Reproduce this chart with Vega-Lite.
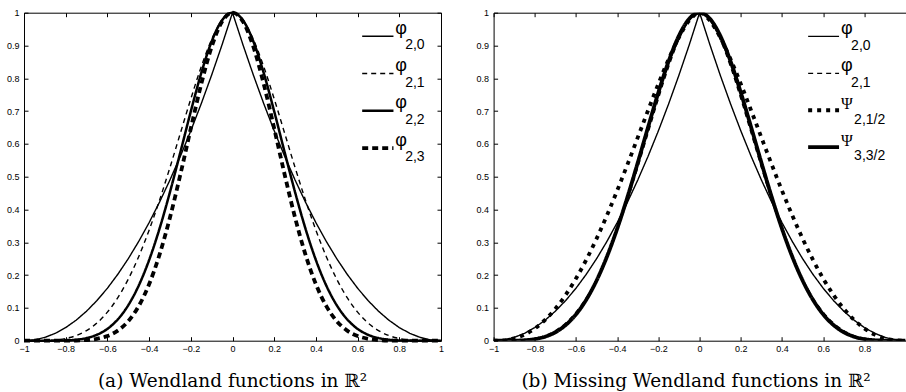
{
  "$schema": "https://vega.github.io/schema/vega-lite/v6.json",
  "background": "white",
  "padding": {"left": 6, "top": 4.7, "right": 0, "bottom": 1},
  "config": {
    "view": {"stroke": null},
    "axis": {"labelFont": "Liberation Sans", "labelFontSize": 9, "labelColor": "black", "domainColor": "black", "domainWidth": 1, "tickColor": "black", "tickWidth": 1, "tickSize": -4, "grid": false, "labelFlush": false, "labelOverlap": false, "labelBound": false},
    "axisX": {"labelPadding": 7.5},
    "axisY": {"labelPadding": 9},
    "title": {"font": "DejaVu Serif", "fontSize": 18.5, "fontWeight": "normal", "color": "black"}
  },
  "datasets": {
    "curves": [
      {"f":"p20","x":-1,"y":0},{"f":"p20","x":-0.95,"y":0.0025},{"f":"p20","x":-0.9,"y":0.01},{"f":"p20","x":-0.85,"y":0.0225},{"f":"p20","x":-0.8,"y":0.04},{"f":"p20","x":-0.75,"y":0.0625},{"f":"p20","x":-0.7,"y":0.09},{"f":"p20","x":-0.65,"y":0.1225},{"f":"p20","x":-0.6,"y":0.16},{"f":"p20","x":-0.55,"y":0.2025},{"f":"p20","x":-0.5,"y":0.25},{"f":"p20","x":-0.45,"y":0.3025},{"f":"p20","x":-0.4,"y":0.36},{"f":"p20","x":-0.35,"y":0.4225},{"f":"p20","x":-0.3,"y":0.49},{"f":"p20","x":-0.25,"y":0.5625},{"f":"p20","x":-0.2,"y":0.64},{"f":"p20","x":-0.15,"y":0.7225},{"f":"p20","x":-0.1,"y":0.81},{"f":"p20","x":-0.05,"y":0.9025},{"f":"p20","x":0,"y":1},{"f":"p20","x":0.05,"y":0.9025},{"f":"p20","x":0.1,"y":0.81},{"f":"p20","x":0.15,"y":0.7225},{"f":"p20","x":0.2,"y":0.64},{"f":"p20","x":0.25,"y":0.5625},{"f":"p20","x":0.3,"y":0.49},{"f":"p20","x":0.35,"y":0.4225},{"f":"p20","x":0.4,"y":0.36},{"f":"p20","x":0.45,"y":0.3025},{"f":"p20","x":0.5,"y":0.25},{"f":"p20","x":0.55,"y":0.2025},{"f":"p20","x":0.6,"y":0.16},{"f":"p20","x":0.65,"y":0.1225},{"f":"p20","x":0.7,"y":0.09},{"f":"p20","x":0.75,"y":0.0625},{"f":"p20","x":0.8,"y":0.04},{"f":"p20","x":0.85,"y":0.0225},{"f":"p20","x":0.9,"y":0.01},{"f":"p20","x":0.95,"y":0.0025},{"f":"p20","x":1,"y":0},
      {"f":"p21","x":-1,"y":0},{"f":"p21","x":-0.95,"y":0},{"f":"p21","x":-0.9,"y":0.0005},{"f":"p21","x":-0.85,"y":0.0022},{"f":"p21","x":-0.8,"y":0.0067},{"f":"p21","x":-0.75,"y":0.0156},{"f":"p21","x":-0.7,"y":0.0308},{"f":"p21","x":-0.65,"y":0.054},{"f":"p21","x":-0.6,"y":0.087},{"f":"p21","x":-0.55,"y":0.1312},{"f":"p21","x":-0.5,"y":0.1875},{"f":"p21","x":-0.45,"y":0.2562},{"f":"p21","x":-0.4,"y":0.337},{"f":"p21","x":-0.35,"y":0.4284},{"f":"p21","x":-0.3,"y":0.5282},{"f":"p21","x":-0.25,"y":0.6328},{"f":"p21","x":-0.2,"y":0.7373},{"f":"p21","x":-0.15,"y":0.8352},{"f":"p21","x":-0.1,"y":0.9185},{"f":"p21","x":-0.05,"y":0.9774},{"f":"p21","x":0,"y":1},{"f":"p21","x":0.05,"y":0.9774},{"f":"p21","x":0.1,"y":0.9185},{"f":"p21","x":0.15,"y":0.8352},{"f":"p21","x":0.2,"y":0.7373},{"f":"p21","x":0.25,"y":0.6328},{"f":"p21","x":0.3,"y":0.5282},{"f":"p21","x":0.35,"y":0.4284},{"f":"p21","x":0.4,"y":0.337},{"f":"p21","x":0.45,"y":0.2562},{"f":"p21","x":0.5,"y":0.1875},{"f":"p21","x":0.55,"y":0.1312},{"f":"p21","x":0.6,"y":0.087},{"f":"p21","x":0.65,"y":0.054},{"f":"p21","x":0.7,"y":0.0308},{"f":"p21","x":0.75,"y":0.0156},{"f":"p21","x":0.8,"y":0.0067},{"f":"p21","x":0.85,"y":0.0022},{"f":"p21","x":0.9,"y":0.0005},{"f":"p21","x":0.95,"y":0},{"f":"p21","x":1,"y":0},
      {"f":"p22","x":-1,"y":0},{"f":"p22","x":-0.95,"y":0},{"f":"p22","x":-0.9,"y":0},{"f":"p22","x":-0.85,"y":0.0002},{"f":"p22","x":-0.8,"y":0.0008},{"f":"p22","x":-0.75,"y":0.0029},{"f":"p22","x":-0.7,"y":0.008},{"f":"p22","x":-0.65,"y":0.0181},{"f":"p22","x":-0.6,"y":0.036},{"f":"p22","x":-0.55,"y":0.065},{"f":"p22","x":-0.5,"y":0.1081},{"f":"p22","x":-0.45,"y":0.1678},{"f":"p22","x":-0.4,"y":0.2457},{"f":"p22","x":-0.35,"y":0.3416},{"f":"p22","x":-0.3,"y":0.453},{"f":"p22","x":-0.25,"y":0.5747},{"f":"p22","x":-0.2,"y":0.6991},{"f":"p22","x":-0.15,"y":0.8156},{"f":"p22","x":-0.1,"y":0.9123},{"f":"p22","x":-0.05,"y":0.9771},{"f":"p22","x":0,"y":1},{"f":"p22","x":0.05,"y":0.9771},{"f":"p22","x":0.1,"y":0.9123},{"f":"p22","x":0.15,"y":0.8156},{"f":"p22","x":0.2,"y":0.6991},{"f":"p22","x":0.25,"y":0.5747},{"f":"p22","x":0.3,"y":0.453},{"f":"p22","x":0.35,"y":0.3416},{"f":"p22","x":0.4,"y":0.2457},{"f":"p22","x":0.45,"y":0.1678},{"f":"p22","x":0.5,"y":0.1081},{"f":"p22","x":0.55,"y":0.065},{"f":"p22","x":0.6,"y":0.036},{"f":"p22","x":0.65,"y":0.0181},{"f":"p22","x":0.7,"y":0.008},{"f":"p22","x":0.75,"y":0.0029},{"f":"p22","x":0.8,"y":0.0008},{"f":"p22","x":0.85,"y":0.0002},{"f":"p22","x":0.9,"y":0},{"f":"p22","x":0.95,"y":0},{"f":"p22","x":1,"y":0},
      {"f":"p23","x":-1,"y":0},{"f":"p23","x":-0.95,"y":0},{"f":"p23","x":-0.9,"y":0},{"f":"p23","x":-0.85,"y":0},{"f":"p23","x":-0.8,"y":0.0001},{"f":"p23","x":-0.75,"y":0.0005},{"f":"p23","x":-0.7,"y":0.002},{"f":"p23","x":-0.65,"y":0.0058},{"f":"p23","x":-0.6,"y":0.0142},{"f":"p23","x":-0.55,"y":0.0308},{"f":"p23","x":-0.5,"y":0.0596},{"f":"p23","x":-0.45,"y":0.1053},{"f":"p23","x":-0.4,"y":0.1721},{"f":"p23","x":-0.35,"y":0.2624},{"f":"p23","x":-0.3,"y":0.3755},{"f":"p23","x":-0.25,"y":0.5068},{"f":"p23","x":-0.2,"y":0.6469},{"f":"p23","x":-0.15,"y":0.7822},{"f":"p23","x":-0.1,"y":0.8962},{"f":"p23","x":-0.05,"y":0.9729},{"f":"p23","x":0,"y":1},{"f":"p23","x":0.05,"y":0.9729},{"f":"p23","x":0.1,"y":0.8962},{"f":"p23","x":0.15,"y":0.7822},{"f":"p23","x":0.2,"y":0.6469},{"f":"p23","x":0.25,"y":0.5068},{"f":"p23","x":0.3,"y":0.3755},{"f":"p23","x":0.35,"y":0.2624},{"f":"p23","x":0.4,"y":0.1721},{"f":"p23","x":0.45,"y":0.1053},{"f":"p23","x":0.5,"y":0.0596},{"f":"p23","x":0.55,"y":0.0308},{"f":"p23","x":0.6,"y":0.0142},{"f":"p23","x":0.65,"y":0.0058},{"f":"p23","x":0.7,"y":0.002},{"f":"p23","x":0.75,"y":0.0005},{"f":"p23","x":0.8,"y":0.0001},{"f":"p23","x":0.85,"y":0},{"f":"p23","x":0.9,"y":0},{"f":"p23","x":0.95,"y":0},{"f":"p23","x":1,"y":0},
      {"f":"s21","x":-1,"y":0},{"f":"s21","x":-0.95,"y":0.0012},{"f":"s21","x":-0.9,"y":0.0069},{"f":"s21","x":-0.85,"y":0.0185},{"f":"s21","x":-0.8,"y":0.0372},{"f":"s21","x":-0.75,"y":0.0634},{"f":"s21","x":-0.7,"y":0.0975},{"f":"s21","x":-0.65,"y":0.1396},{"f":"s21","x":-0.6,"y":0.1895},{"f":"s21","x":-0.55,"y":0.2469},{"f":"s21","x":-0.5,"y":0.3113},{"f":"s21","x":-0.45,"y":0.3819},{"f":"s21","x":-0.4,"y":0.4577},{"f":"s21","x":-0.35,"y":0.5375},{"f":"s21","x":-0.3,"y":0.6197},{"f":"s21","x":-0.25,"y":0.7024},{"f":"s21","x":-0.2,"y":0.7831},{"f":"s21","x":-0.15,"y":0.8587},{"f":"s21","x":-0.1,"y":0.9251},{"f":"s21","x":-0.05,"y":0.9761},{"f":"s21","x":0,"y":1},{"f":"s21","x":0.05,"y":0.9761},{"f":"s21","x":0.1,"y":0.9251},{"f":"s21","x":0.15,"y":0.8587},{"f":"s21","x":0.2,"y":0.7831},{"f":"s21","x":0.25,"y":0.7024},{"f":"s21","x":0.3,"y":0.6197},{"f":"s21","x":0.35,"y":0.5375},{"f":"s21","x":0.4,"y":0.4577},{"f":"s21","x":0.45,"y":0.3819},{"f":"s21","x":0.5,"y":0.3113},{"f":"s21","x":0.55,"y":0.2469},{"f":"s21","x":0.6,"y":0.1895},{"f":"s21","x":0.65,"y":0.1396},{"f":"s21","x":0.7,"y":0.0975},{"f":"s21","x":0.75,"y":0.0634},{"f":"s21","x":0.8,"y":0.0372},{"f":"s21","x":0.85,"y":0.0185},{"f":"s21","x":0.9,"y":0.0069},{"f":"s21","x":0.95,"y":0.0012},{"f":"s21","x":1,"y":0},
      {"f":"s33","x":-1,"y":0},{"f":"s33","x":-0.95,"y":0},{"f":"s33","x":-0.9,"y":0.0002},{"f":"s33","x":-0.85,"y":0.0014},{"f":"s33","x":-0.8,"y":0.0048},{"f":"s33","x":-0.75,"y":0.0122},{"f":"s33","x":-0.7,"y":0.0258},{"f":"s33","x":-0.65,"y":0.0477},{"f":"s33","x":-0.6,"y":0.0802},{"f":"s33","x":-0.55,"y":0.1251},{"f":"s33","x":-0.5,"y":0.1836},{"f":"s33","x":-0.45,"y":0.2559},{"f":"s33","x":-0.4,"y":0.3414},{"f":"s33","x":-0.35,"y":0.4383},{"f":"s33","x":-0.3,"y":0.5431},{"f":"s33","x":-0.25,"y":0.6513},{"f":"s33","x":-0.2,"y":0.7568},{"f":"s33","x":-0.15,"y":0.8524},{"f":"s33","x":-0.1,"y":0.9301},{"f":"s33","x":-0.05,"y":0.9817},{"f":"s33","x":0,"y":1},{"f":"s33","x":0.05,"y":0.9817},{"f":"s33","x":0.1,"y":0.9301},{"f":"s33","x":0.15,"y":0.8524},{"f":"s33","x":0.2,"y":0.7568},{"f":"s33","x":0.25,"y":0.6513},{"f":"s33","x":0.3,"y":0.5431},{"f":"s33","x":0.35,"y":0.4383},{"f":"s33","x":0.4,"y":0.3414},{"f":"s33","x":0.45,"y":0.2559},{"f":"s33","x":0.5,"y":0.1836},{"f":"s33","x":0.55,"y":0.1251},{"f":"s33","x":0.6,"y":0.0802},{"f":"s33","x":0.65,"y":0.0477},{"f":"s33","x":0.7,"y":0.0258},{"f":"s33","x":0.75,"y":0.0122},{"f":"s33","x":0.8,"y":0.0048},{"f":"s33","x":0.85,"y":0.0014},{"f":"s33","x":0.9,"y":0.0002},{"f":"s33","x":0.95,"y":0},{"f":"s33","x":1,"y":0}
    ],
    "leg": [
      {"p":"a","f":"p20","s":"φ","t":"2,0"},{"p":"a","f":"p21","s":"φ","t":"2,1"},{"p":"a","f":"p22","s":"φ","t":"2,2"},{"p":"a","f":"p23","s":"φ","t":"2,3"},
      {"p":"b","f":"p20","s":"φ","t":"2,0"},{"p":"b","f":"p21","s":"φ","t":"2,1"},{"p":"b","f":"s21","s":"Ψ","t":"2,1/2"},{"p":"b","f":"s33","s":"Ψ","t":"3,3/2"}
    ]
  },
  "bounds": "flush",
  "spacing": 52.6,
  "resolve": {"scale": {"strokeDash": "independent", "strokeWidth": "independent"}},
  "hconcat": [
    {
      "width": 417, "height": 328,
      "title": {"text": "(a) Wendland functions in ℝ²", "orient": "bottom", "anchor": "middle", "baseline": "alphabetic", "offset": 33.8},
      "resolve": {"scale": {"y": "independent"}, "axis": {"x": "independent"}},
      "layer": [
        {
          "data": {"name": "curves"},
          "transform": [{"filter": "datum.f === 'p20'"}],
          "mark": {"type": "line", "interpolate": "linear", "color": "black"},
          "encoding": {
            "x": {"field": "x", "type": "quantitative", "scale": {"domain": [-1, 1]}, "axis": {"orient": "bottom", "title": null, "values": [-1, -0.8, -0.6, -0.4, -0.2, 0, 0.2, 0.4, 0.6, 0.8, 1], "format": "~g"}},
            "y": {"field": "y", "type": "quantitative", "scale": {"domain": [0, 1]}, "axis": {"orient": "left", "title": null, "values": [0, 0.1, 0.2, 0.3, 0.4, 0.5, 0.6, 0.7, 0.8, 0.9, 1], "format": "~g"}},
            "strokeDash": {"field": "f", "type": "nominal", "legend": null, "scale": {"domain": ["p20", "p21", "p22", "p23"], "range": [[1, 0], [5, 4], [1, 0], [6, 4]]}},
            "strokeWidth": {"field": "f", "type": "nominal", "legend": null, "scale": {"type": "ordinal", "domain": ["p20", "p21", "p22", "p23"], "range": [1.4, 1.4, 2.5, 3.8]}}
          }
        },
        {
          "data": {"name": "curves"},
          "transform": [{"filter": "indexof(['p21','p22','p23'], datum.f) >= 0"}],
          "mark": {"type": "line", "interpolate": "monotone", "color": "black"},
          "encoding": {
            "x": {"field": "x", "type": "quantitative", "scale": {"domain": [-1, 1]}, "axis": {"orient": "top", "title": null, "labels": false, "values": [-1, -0.8, -0.6, -0.4, -0.2, 0, 0.2, 0.4, 0.6, 0.8, 1]}},
            "y": {"field": "y", "type": "quantitative", "scale": {"domain": [0, 1]}, "axis": {"orient": "right", "title": null, "labels": false, "values": [0, 0.1, 0.2, 0.3, 0.4, 0.5, 0.6, 0.7, 0.8, 0.9, 1]}},
            "strokeDash": {"field": "f", "type": "nominal", "legend": null, "scale": {"domain": ["p20", "p21", "p22", "p23"], "range": [[1, 0], [5, 4], [1, 0], [6, 4]]}},
            "strokeWidth": {"field": "f", "type": "nominal", "legend": null, "scale": {"type": "ordinal", "domain": ["p20", "p21", "p22", "p23"], "range": [1.4, 1.4, 2.5, 3.8]}}
          }
        },
        {
          "data": {"name": "leg"},
          "transform": [{"filter": "datum.p === 'a'"}],
          "mark": {"type": "rule", "color": "black"},
          "encoding": {
            "x": {"datum": 0.622, "type": "quantitative", "axis": null},
            "x2": {"datum": 0.772},
            "y": {"field": "f", "type": "nominal", "axis": null, "scale": {"type": "point", "domain": ["p20", "p21", "p22", "p23"], "range": [23.5, 135.5], "padding": 0}},
            "strokeDash": {"field": "f", "type": "nominal", "legend": null, "scale": {"domain": ["p20", "p21", "p22", "p23"], "range": [[1, 0], [5, 4], [1, 0], [6, 4]]}},
            "strokeWidth": {"field": "f", "type": "nominal", "legend": null, "scale": {"type": "ordinal", "domain": ["p20", "p21", "p22", "p23"], "range": [1.4, 1.4, 2.5, 3.8]}}
          }
        },
        {
          "data": {"name": "leg"},
          "transform": [{"filter": "datum.p === 'a'"}],
          "mark": {"type": "text", "align": "left", "baseline": "alphabetic", "dy": -2.5, "font": "Liberation Sans", "fontSize": 18, "color": "black"},
          "encoding": {
            "x": {"datum": 0.78, "type": "quantitative", "axis": null},
            "y": {"field": "f", "type": "nominal", "axis": null, "scale": {"type": "point", "domain": ["p20", "p21", "p22", "p23"], "range": [23.5, 135.5], "padding": 0}},
            "text": {"field": "s"}
          }
        },
        {
          "data": {"name": "leg"},
          "transform": [{"filter": "datum.p === 'a'"}],
          "mark": {"type": "text", "align": "left", "baseline": "alphabetic", "dx": 10, "dy": 13.3, "font": "Liberation Sans", "fontSize": 14, "color": "black"},
          "encoding": {
            "x": {"datum": 0.78, "type": "quantitative", "axis": null},
            "y": {"field": "f", "type": "nominal", "axis": null, "scale": {"type": "point", "domain": ["p20", "p21", "p22", "p23"], "range": [23.5, 135.5], "padding": 0}},
            "text": {"field": "t"}
          }
        }
      ]
    },
    {
      "width": 412, "height": 328,
      "title": {"text": "(b) Missing Wendland functions in ℝ²", "orient": "bottom", "anchor": "middle", "baseline": "alphabetic", "offset": 33.8, "dx": -3.5},
      "resolve": {"scale": {"y": "independent"}, "axis": {"x": "independent"}},
      "layer": [
        {
          "data": {"name": "curves"},
          "transform": [{"filter": "datum.f === 'p20'"}],
          "mark": {"type": "line", "interpolate": "linear", "color": "black", "clip": true},
          "encoding": {
            "x": {"field": "x", "type": "quantitative", "scale": {"domain": [-1, 0.976]}, "axis": {"orient": "bottom", "title": null, "values": [-1, -0.8, -0.6, -0.4, -0.2, 0, 0.2, 0.4, 0.6, 0.8], "format": "~g"}},
            "y": {"field": "y", "type": "quantitative", "scale": {"domain": [0, 1]}, "axis": {"orient": "left", "title": null, "values": [0, 0.1, 0.2, 0.3, 0.4, 0.5, 0.6, 0.7, 0.8, 0.9, 1], "format": "~g"}},
            "strokeDash": {"field": "f", "type": "nominal", "legend": null, "scale": {"domain": ["p20", "p21", "s21", "s33"], "range": [[1, 0], [5, 4], [4, 5], [1, 0]]}},
            "strokeWidth": {"field": "f", "type": "nominal", "legend": null, "scale": {"type": "ordinal", "domain": ["p20", "p21", "s21", "s33"], "range": [1.4, 1.4, 3.8, 3.8]}}
          }
        },
        {
          "data": {"name": "curves"},
          "transform": [{"filter": "indexof(['p21','s21','s33'], datum.f) >= 0"}],
          "mark": {"type": "line", "interpolate": "monotone", "color": "black", "clip": true},
          "encoding": {
            "x": {"field": "x", "type": "quantitative", "scale": {"domain": [-1, 0.976]}, "axis": {"orient": "top", "title": null, "labels": false, "values": [-1, -0.8, -0.6, -0.4, -0.2, 0, 0.2, 0.4, 0.6, 0.8]}},
            "y": {"field": "y", "type": "quantitative", "scale": {"domain": [0, 1]}, "axis": null},
            "strokeDash": {"field": "f", "type": "nominal", "legend": null, "scale": {"domain": ["p20", "p21", "s21", "s33"], "range": [[1, 0], [5, 4], [4, 5], [1, 0]]}},
            "strokeWidth": {"field": "f", "type": "nominal", "legend": null, "scale": {"type": "ordinal", "domain": ["p20", "p21", "s21", "s33"], "range": [1.4, 1.4, 3.8, 3.8]}}
          }
        },
        {
          "data": {"name": "leg"},
          "transform": [{"filter": "datum.p === 'b'"}],
          "mark": {"type": "rule", "color": "black"},
          "encoding": {
            "x": {"datum": 0.527, "type": "quantitative", "axis": null},
            "x2": {"datum": 0.677},
            "y": {"field": "f", "type": "nominal", "axis": null, "scale": {"type": "point", "domain": ["p20", "p21", "s21", "s33"], "range": [23.7, 134.5], "padding": 0}},
            "strokeDash": {"field": "f", "type": "nominal", "legend": null, "scale": {"domain": ["p20", "p21", "s21", "s33"], "range": [[1, 0], [5, 4], [4, 5], [1, 0]]}},
            "strokeWidth": {"field": "f", "type": "nominal", "legend": null, "scale": {"type": "ordinal", "domain": ["p20", "p21", "s21", "s33"], "range": [1.4, 1.4, 3.8, 3.8]}}
          }
        },
        {
          "data": {"name": "leg"},
          "transform": [{"filter": "datum.p === 'b' && datum.s === 'φ'"}],
          "mark": {"type": "text", "align": "left", "baseline": "alphabetic", "dy": -2.5, "font": "Liberation Sans", "fontSize": 18, "color": "black"},
          "encoding": {
            "x": {"datum": 0.687, "type": "quantitative", "axis": null},
            "y": {"field": "f", "type": "nominal", "axis": null, "scale": {"type": "point", "domain": ["p20", "p21", "s21", "s33"], "range": [23.7, 134.5], "padding": 0}},
            "text": {"field": "s"}
          }
        },
        {
          "data": {"name": "leg"},
          "transform": [{"filter": "datum.p === 'b' && datum.s === 'Ψ'"}],
          "mark": {"type": "text", "align": "left", "baseline": "alphabetic", "dy": -1.5, "font": "Liberation Serif", "fontSize": 16, "color": "black"},
          "encoding": {
            "x": {"datum": 0.687, "type": "quantitative", "axis": null},
            "y": {"field": "f", "type": "nominal", "axis": null, "scale": {"type": "point", "domain": ["p20", "p21", "s21", "s33"], "range": [23.7, 134.5], "padding": 0}},
            "text": {"field": "s"}
          }
        },
        {
          "data": {"name": "leg"},
          "transform": [{"filter": "datum.p === 'b' && datum.s === 'φ'"}],
          "mark": {"type": "text", "align": "left", "baseline": "alphabetic", "dx": 10, "dy": 13.3, "font": "Liberation Sans", "fontSize": 14, "color": "black"},
          "encoding": {
            "x": {"datum": 0.687, "type": "quantitative", "axis": null},
            "y": {"field": "f", "type": "nominal", "axis": null, "scale": {"type": "point", "domain": ["p20", "p21", "s21", "s33"], "range": [23.7, 134.5], "padding": 0}},
            "text": {"field": "t"}
          }
        },
        {
          "data": {"name": "leg"},
          "transform": [{"filter": "datum.p === 'b' && datum.s === 'Ψ'"}],
          "mark": {"type": "text", "align": "left", "baseline": "alphabetic", "dx": 13, "dy": 13.3, "font": "Liberation Sans", "fontSize": 14, "color": "black"},
          "encoding": {
            "x": {"datum": 0.687, "type": "quantitative", "axis": null},
            "y": {"field": "f", "type": "nominal", "axis": null, "scale": {"type": "point", "domain": ["p20", "p21", "s21", "s33"], "range": [23.7, 134.5], "padding": 0}},
            "text": {"field": "t"}
          }
        }
      ]
    }
  ]
}
